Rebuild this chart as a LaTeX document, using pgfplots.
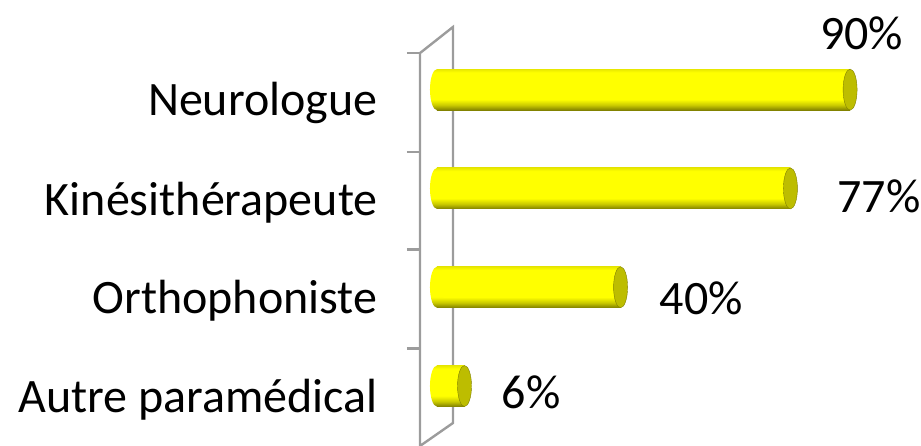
\documentclass[border=0pt]{standalone}
\usepackage{fontspec}
\setmainfont{Carlito}
\usepackage{pgfplots}
\pgfplotsset{compat=1.18}

\definecolor{capolive}{HTML}{BDBD00}
\definecolor{darkolive}{HTML}{808000}
\definecolor{midolive}{HTML}{C8C800}
\definecolor{topyel}{HTML}{E8E800}
\definecolor{wallgray}{HTML}{9C9C9C}
\definecolor{baryel}{HTML}{FFFF00}

\pgfdeclareverticalshading{cylbar}{100bp}{color(0bp)=(darkolive); color(25bp)=(darkolive); color(31bp)=(midolive); color(38bp)=(baryel); color(71bp)=(baryel); color(75bp)=(topyel); color(100bp)=(topyel)}

\pgfdeclareplotmark{rcap}{%
  \pgfpathellipse{\pgfpointorigin}{\pgfqpoint{7pt}{0pt}}{\pgfqpoint{0pt}{20.5pt}}%
  \pgfusepathqfillstroke}
\pgfdeclareplotmark{lcap}{%
  \pgfpathellipse{\pgfpointorigin}{\pgfqpoint{7pt}{0pt}}{\pgfqpoint{0pt}{20.5pt}}%
  \pgfshadepath{cylbar}{0}%
  \pgfusepath{}}

\pgfplotsset{
  cylbar/.style n args={2}{xbar, bar width=41pt, bar shift=0pt, draw=none, shade, shading=cylbar,
    nodes near coords={\pgfmathprintnumber{\pgfplotspointmeta}\%},
    nodes near coords style={anchor=west, inner sep=0pt, xshift=#1, yshift=#2, font=\fontsize{48}{56}\selectfont, text=black, /pgf/number format/assume math mode=true}},
}

\begin{document}
\begin{tikzpicture}
\begin{axis}[
  scale only axis, width=476pt, height=419pt,
  xmin=-3.7, xmax=100, ymin=-0.607, ymax=3.634,
  axis line style={draw=none},
  xtick=\empty,
  ytick={-0.14,0.86,1.86,2.86},
  yticklabels={Autre paramédical, Orthophoniste, Kinésithérapeute, Neurologue},
  major tick length=0pt,
  yticklabel style={font=\fontsize{48}{56}\selectfont, xshift=-39pt},
  clip=false,
]
\draw[wallgray, line width=2.4pt] (axis cs:-3.7,-0.607) -- (axis cs:-3.7,3.37) -- (axis cs:3.49,3.634) -- (axis cs:3.49,-0.374) -- cycle;
\draw[wallgray, line width=2.4pt] (axis cs:-6.54,3.37) -- (axis cs:-3.7,3.37);
\draw[wallgray, line width=2.4pt] (axis cs:-6.54,2.37) -- (axis cs:-3.7,2.37);
\draw[wallgray, line width=2.4pt] (axis cs:-6.54,1.38) -- (axis cs:-3.7,1.38);
\draw[wallgray, line width=2.4pt] (axis cs:-6.54,0.38) -- (axis cs:-3.7,0.38);
\addplot[only marks, mark=lcap] coordinates {(0,0) (0,1) (0,2) (0,3)};
\addplot[cylbar={37pt}{-6pt}] coordinates {(6,0)};
\addplot[cylbar={39pt}{-11pt}] coordinates {(40,1)};
\addplot[cylbar={47pt}{-8pt}] coordinates {(77,2)};
\addplot[cylbar={-30pt}{56pt}] coordinates {(90,3)};
\addplot[only marks, mark=rcap, mark options={fill=capolive, draw=darkolive, line width=0.4pt}] coordinates {(6,0) (40,1) (77,2) (90,3)};
\end{axis}
\pgfresetboundingbox
\path (current axis.south west) ++(-420pt,0) rectangle ++(921pt,446pt);
\end{tikzpicture}
\end{document}
